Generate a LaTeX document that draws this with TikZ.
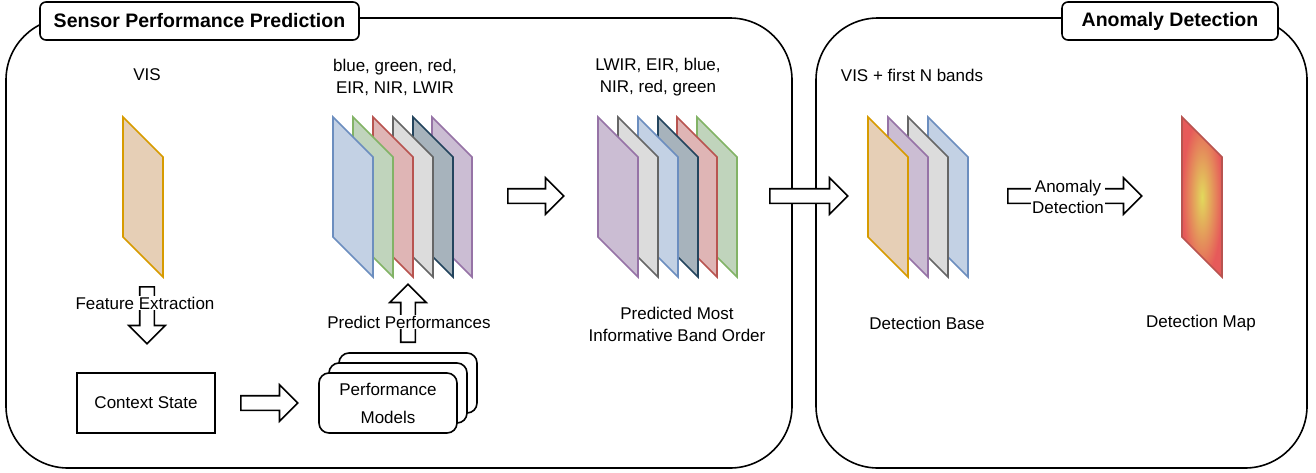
\documentclass[tikz,border=0pt]{standalone}
\usepackage{fontspec}
\setmainfont{Liberation Sans}
\usepackage{tikz}
\usetikzlibrary{shapes.arrows,positioning}

% band colours (fill / outline)
\definecolor{bluefill}{HTML}{C3D1E4}   \definecolor{blueline}{HTML}{6C8EBF}
\definecolor{greenfill}{HTML}{C0D4BC}  \definecolor{greenline}{HTML}{82B366}
\definecolor{redfill}{HTML}{DFB5B5}    \definecolor{redline}{HTML}{B85450}
\definecolor{grayfill}{HTML}{DCDCDC}   \definecolor{grayline}{HTML}{666666}
\definecolor{navyfill}{HTML}{A7B3BC}   \definecolor{navyline}{HTML}{23445D}
\definecolor{purplefill}{HTML}{CBBDD3} \definecolor{purpleline}{HTML}{9673A6}
\definecolor{orangefill}{HTML}{E6CFB6} \definecolor{orangeline}{HTML}{D79B00}
\definecolor{mapinner}{HTML}{E2D95C}   \definecolor{mapouter}{HTML}{E65A5A}

\begin{document}
\begin{tikzpicture}[
    x=1pt, y=-1pt,
    frame/.style={draw, line width=1.6pt, rounded corners=62pt},
    tag/.style={rectangle, draw, fill=white, line width=1.6pt, rounded corners=6pt, minimum height=38pt, font=\fontsize{19.5}{22}\selectfont\bfseries},
    lbl/.style={align=center, font=\fontsize{17}{22}\selectfont},
    onarrow/.style={lbl, fill=white, inner sep=1pt},
    band/.style={line width=1.6pt, draw=#1line, fill=#1fill, line join=miter},
    box/.style={rectangle, draw, line width=1.6pt, minimum width=138pt, minimum height=60pt, align=center, font=\fontsize{17}{28}\selectfont},
    model/.style={box, rounded corners=10pt, fill=white},
    blk/.style={single arrow, draw, fill=white, line width=1.6pt, anchor=tail, inner xsep=0pt, inner ysep=6.5pt, minimum width=0pt, single arrow head extend=11pt},
    vblk/.style={blk, inner xsep=6.5pt, inner ysep=0pt}
]
\useasboundingbox (0,0) rectangle (1316,472);

% Frames and their titles
\draw[frame] (6,18) rectangle (792,468);
\draw[frame] (816,18) rectangle (1307,468);
\node[tag, minimum width=319pt] (sensor) at (199.5,21) {Sensor Performance Prediction};
\node[tag, minimum width=216pt] (anomaly) at (1170,21) {Anomaly Detection};

% VIS input
\draw[band=orange] (123,117) -- ++(40,40) -- ++(0,120) -- ++(-40,-40) -- cycle;
\node[lbl] (vis) at (147,75) {VIS};

% All bands
\foreach \x/\c in {432/purple,413/navy,393/gray,373/red,353/green,333/blue}
    \draw[band=\c] (\x,117) -- ++(40,40) -- ++(0,120) -- ++(-40,-40) -- cycle;
\node[lbl] (bands) at (395,77) {blue, green, red,\\EIR, NIR, LWIR};

% Predicted band order
\foreach \x/\c in {697/green,677/red,658/navy,638/blue,618/gray,598/purple}
    \draw[band=\c] (\x,117) -- ++(40,40) -- ++(0,120) -- ++(-40,-40) -- cycle;
\node[lbl] (order) at (658,77) {LWIR, EIR, blue,\\NIR, red, green};
\node[lbl] (ordername) at (677,324) {Predicted Most\\Informative Band Order};

% Detection base
\foreach \x/\c in {928/blue,908/gray,888/purple,868/orange}
    \draw[band=\c] (\x,117) -- ++(40,40) -- ++(0,120) -- ++(-40,-40) -- cycle;
\node[lbl] (first) at (912,75) {VIS + first N bands};
\node[lbl] (base) at (927,323) {Detection Base};

% Detection map
\shadedraw[line width=1.6pt, draw=redline, inner color=mapinner, outer color=mapouter]
    (1182,117) -- ++(40,40) -- ++(0,120) -- ++(-40,-40) -- cycle;
\node[lbl] (map) at (1201,323) {Detection Map};

% Context state and performance models
\node[box] (ctx) at (146,403) {Context State};
\node[model] (models3) at (408,383) {};
\node[model] (models2) at (398,393) {};
\node[model] (models) at (388,403) {Performance\\Models};

% Block arrows (placed by their tails)
\node[vblk, minimum height=57pt, shape border rotate=270] (fe) at (147,286) {};
\node[onarrow] (felbl) at (145,303) {Feature Extraction};
\node[blk, minimum height=57pt] (cm) at (240,403) {};
\node[vblk, minimum height=58pt, shape border rotate=90] (pp) at (408,343) {};
\node[onarrow] (pplbl) at (409,322) {Predict Performances};
\node[blk, minimum height=56pt] (reorder) at (507,196) {};
\node[blk, minimum height=78pt] (handover) at (769,196) {};
\node[blk, minimum height=134pt] (detect) at (1007,196) {};
\node[onarrow, font=\fontsize{17}{21}\selectfont] (detlbl) at (1068,197) {Anomaly\\Detection};

\end{tikzpicture}
\end{document}
